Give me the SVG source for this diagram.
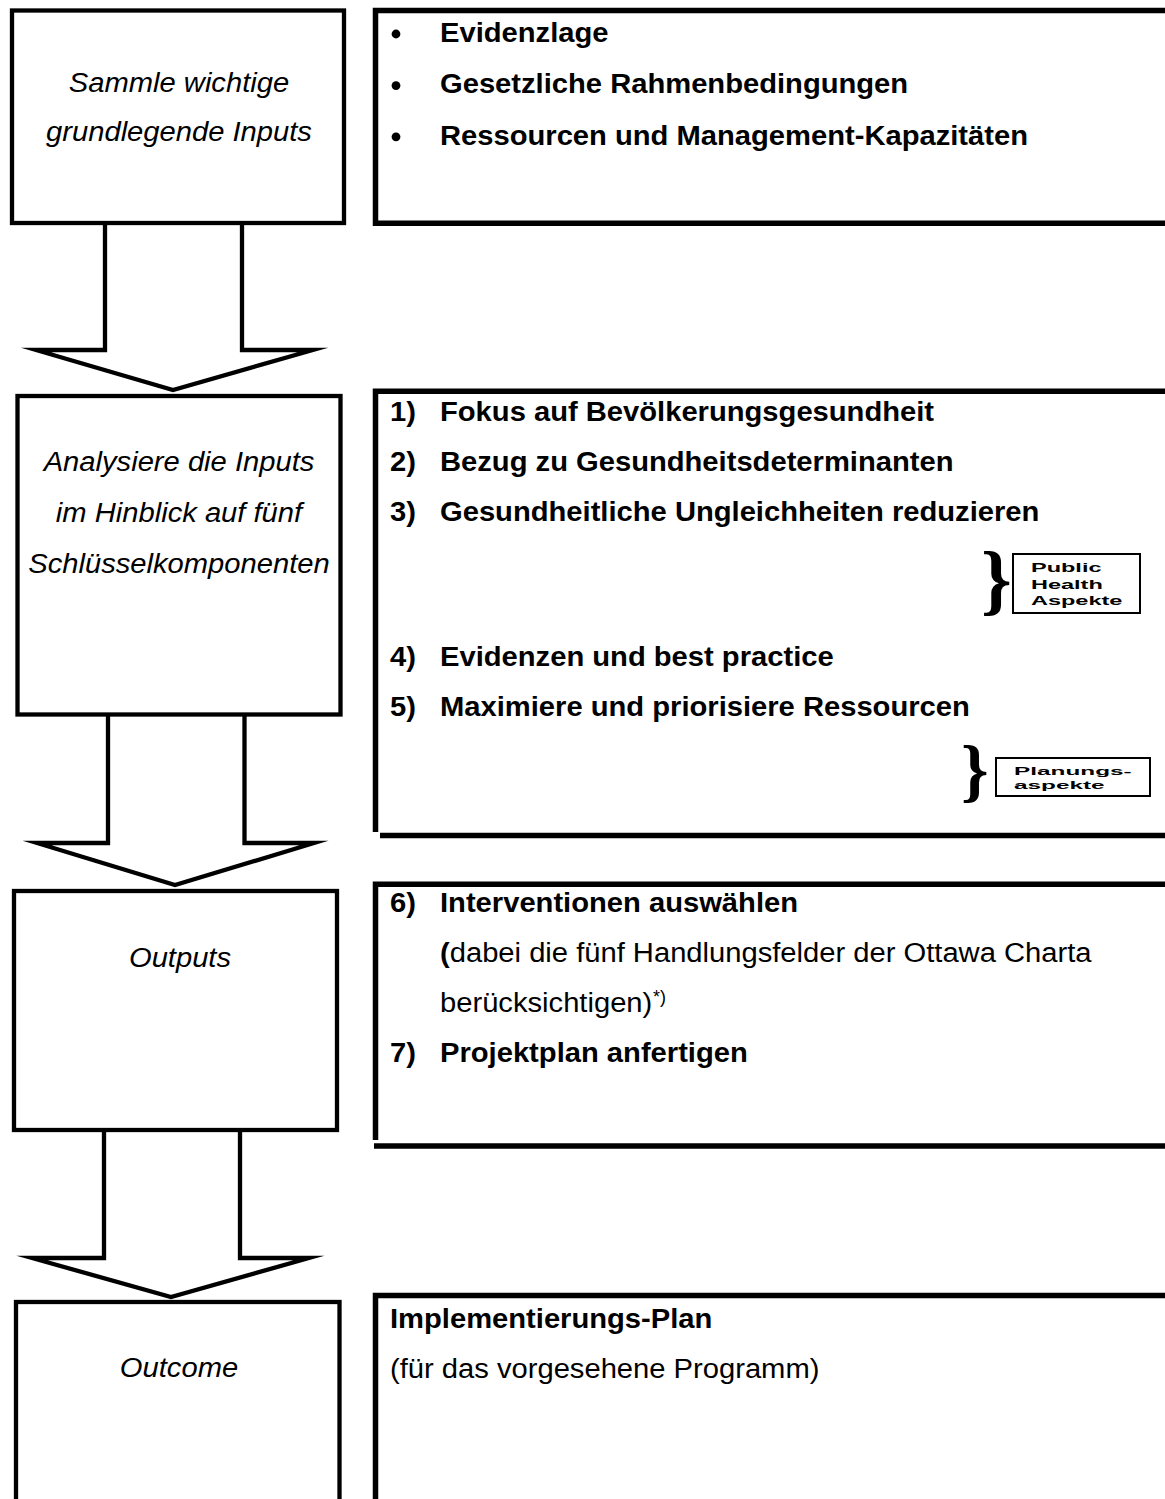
<svg xmlns="http://www.w3.org/2000/svg" width="1165" height="1499" viewBox="0 0 1165 1499">
<style>
.box{fill:#fff;stroke:#000;stroke-width:4.3}
.edge{fill:none;stroke:#000;stroke-width:5.5;stroke-linecap:butt}
.arrow{fill:#fff;stroke:#000;stroke-width:4.3;stroke-linejoin:miter;stroke-miterlimit:10}
.it{font-family:"Liberation Sans",Arial,sans-serif;font-style:italic;font-size:27px;fill:#000}
.b{font-family:"Liberation Sans",Arial,sans-serif;font-weight:bold;font-size:27px;fill:#000}
.n{font-family:"Liberation Sans",Arial,sans-serif;font-size:27px;fill:#000}
.sup{font-family:"Liberation Sans",Arial,sans-serif;font-size:18px;fill:#000}
.lbl{fill:#fff;stroke:#000;stroke-width:2}
.lt{font-family:"Liberation Sans",Arial,sans-serif;font-weight:bold;fill:#000}
.brace{font-family:"Liberation Serif","Times New Roman",serif;font-weight:bold;fill:#000}
</style>
<rect x="0" y="0" width="1165" height="1499" fill="#fff"/>

<g id="connectors">
  <path class="arrow" d="M105,223 L105,350 L36,350 L173,390 L313,350 L242,350 L242,223"/>
  <path class="arrow" d="M108,714.5 L108,843 L37,843 L175,885 L314,843 L244.5,843 L244.5,714.5"/>
  <path class="arrow" d="M104,1130 L104,1258 L32,1258 L171,1297 L309,1258 L240,1258 L240,1130"/>
</g>

<g id="step1">
  <rect class="box" x="12" y="10.5" width="332" height="212.5"/>
  <text class="it" text-anchor="middle" transform="translate(179,91.5) scale(1.08,1)">Sammle wichtige</text>
  <text class="it" text-anchor="middle" transform="translate(179,141) scale(1.08,1)">grundlegende Inputs</text>
</g>

<g id="step1-detail">
  <path class="edge" d="M1170,10.5 L375.5,10.5 L375.5,223.3 L1170,223.3"/>
  <circle cx="396" cy="34" r="4.4"/>
  <circle cx="396" cy="85.6" r="4.4"/>
  <circle cx="396" cy="136.8" r="4.4"/>
  <text class="b" transform="translate(440,41.7) scale(1.08,1)">Evidenzlage</text>
  <text class="b" transform="translate(440,93.3) scale(1.08,1)">Gesetzliche Rahmenbedingungen</text>
  <text class="b" transform="translate(440,144.5) scale(1.08,1)">Ressourcen und Management-Kapazitäten</text>
</g>

<g id="step2">
  <rect class="box" x="17.5" y="396" width="323" height="318.5"/>
  <text class="it" text-anchor="middle" transform="translate(179,471) scale(1.08,1)">Analysiere die Inputs</text>
  <text class="it" text-anchor="middle" transform="translate(179,521.5) scale(1.08,1)">im Hinblick auf fünf</text>
  <text class="it" text-anchor="middle" transform="translate(179,572.5) scale(1.08,1)">Schlüsselkomponenten</text>
</g>

<g id="step2-detail">
  <path class="edge" d="M1170,391.3 L375.5,391.3 L375.5,832"/>
  <path class="edge" d="M380,835.5 L1170,835.5"/>
  <text class="b" transform="translate(390,420.7) scale(1.08,1)">1)</text>
  <text class="b" transform="translate(440,420.7) scale(1.08,1)">Fokus auf Bevölkerungsgesundheit</text>
  <text class="b" transform="translate(390,470.7) scale(1.08,1)">2)</text>
  <text class="b" transform="translate(440,470.7) scale(1.08,1)">Bezug zu Gesundheitsdeterminanten</text>
  <text class="b" transform="translate(390,520.5) scale(1.08,1)">3)</text>
  <text class="b" transform="translate(440,520.5) scale(1.08,1)">Gesundheitliche Ungleichheiten reduzieren</text>
  <text class="b" transform="translate(390,666) scale(1.08,1)">4)</text>
  <text class="b" transform="translate(440,666) scale(1.08,1)">Evidenzen und best practice</text>
  <text class="b" transform="translate(390,716) scale(1.08,1)">5)</text>
  <text class="b" transform="translate(440,716) scale(1.08,1)">Maximiere und priorisiere Ressourcen</text>
</g>

<g id="label-public-health">
  <text class="brace" x="981" y="605" font-size="78">}</text>
  <rect class="lbl" x="1013" y="554" width="127" height="59"/>
  <text class="lt" font-size="12.5" transform="translate(1031,572) scale(1.88,1)">Public</text>
  <text class="lt" font-size="12.5" transform="translate(1031,588.5) scale(1.88,1)">Health</text>
  <text class="lt" font-size="12.5" transform="translate(1031,605) scale(1.88,1)">Aspekte</text>
</g>

<g id="label-planung">
  <text class="brace" x="961" y="794" font-size="70">}</text>
  <rect class="lbl" x="996" y="758" width="154" height="38"/>
  <text class="lt" font-size="11.6" transform="translate(1014,775) scale(2.1,1)">Planungs-</text>
  <text class="lt" font-size="11.6" transform="translate(1014,789) scale(2.1,1)">aspekte</text>
</g>

<g id="step3">
  <rect class="box" x="14" y="891" width="323" height="239"/>
  <text class="it" text-anchor="middle" transform="translate(180,967) scale(1.08,1)">Outputs</text>
</g>

<g id="step3-detail">
  <path class="edge" d="M1170,884.3 L375.5,884.3 L375.5,1140"/>
  <path class="edge" d="M374,1146 L1170,1146"/>
  <text class="b" transform="translate(390,912.3) scale(1.08,1)">6)</text>
  <text class="b" transform="translate(440,912.3) scale(1.08,1)">Interventionen auswählen</text>
  <text class="n" transform="translate(440,962.3) scale(1.08,1)"><tspan font-weight="bold">(</tspan>dabei die fünf Handlungsfelder der Ottawa Charta</text>
  <text class="n" transform="translate(440,1011.7) scale(1.08,1)">berücksichtigen)</text>
  <text class="sup" transform="translate(653,1003) scale(1.0,1)">*)</text>
  <text class="b" transform="translate(390,1061.7) scale(1.08,1)">7)</text>
  <text class="b" transform="translate(440,1061.7) scale(1.08,1)">Projektplan anfertigen</text>
</g>

<g id="step4">
  <rect class="box" x="16" y="1302" width="323.5" height="220"/>
  <text class="it" text-anchor="middle" transform="translate(179,1377) scale(1.08,1)">Outcome</text>
</g>

<g id="step4-detail">
  <path class="edge" d="M1170,1295.5 L375.5,1295.5 L375.5,1510"/>
  <text class="b" transform="translate(390,1328.3) scale(1.08,1)">Implementierungs-Plan</text>
  <text class="n" transform="translate(390,1378) scale(1.08,1)">(für das vorgesehene Programm)</text>
</g>
</svg>
